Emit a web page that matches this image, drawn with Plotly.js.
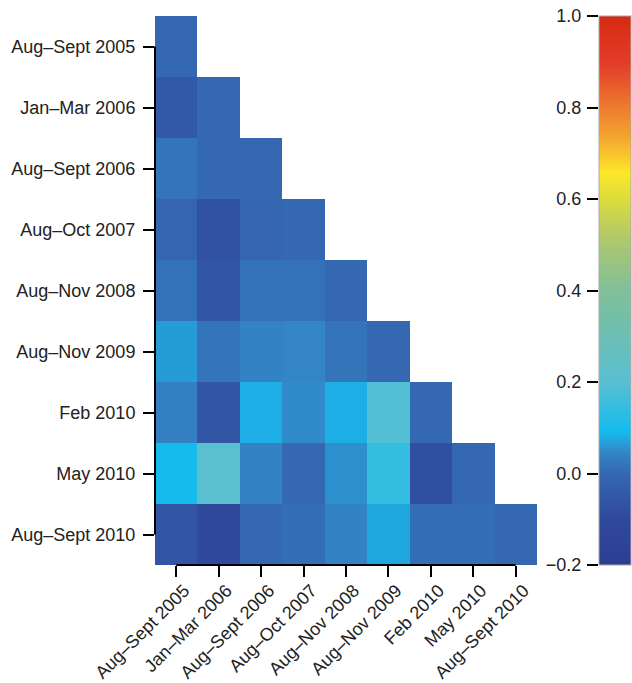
<!DOCTYPE html>
<html>
<head>
<meta charset="utf-8">
<script src="https://cdn.plot.ly/plotly-3.0.1.min.js"></script>
<style>html,body{margin:0;padding:0;background:#fff;}#chart{width:632px;height:683px;}</style>
</head>
<body>
<div id="chart"></div>
<script>
// Survey periods (row and column categories)
const periods = [
  "Aug–Sept 2005", "Jan–Mar 2006", "Aug–Sept 2006", "Aug–Oct 2007",
  "Aug–Nov 2008", "Aug–Nov 2009", "Feb 2010", "May 2010", "Aug–Sept 2010"
];

// Lower-triangular correlation values, one array per row (null = empty cell)
const rowAugSept2005 = [0.00, null, null, null, null, null, null, null, null];
const rowJanMar2006  = [-0.05, 0.00, null, null, null, null, null, null, null];
const rowAugSept2006 = [0.02, 0.00, 0.00, null, null, null, null, null, null];
const rowAugOct2007  = [-0.01, -0.07, -0.01, 0.00, null, null, null, null, null];
const rowAugNov2008  = [0.015, -0.06, 0.015, 0.015, 0.00, null, null, null, null];
const rowAugNov2009  = [0.065, 0.02, 0.04, 0.045, 0.02, 0.00, null, null, null];
const rowFeb2010     = [0.035, -0.06, 0.08, 0.05, 0.08, 0.19, 0.00, null, null];
const rowMay2010     = [0.095, 0.21, 0.04, 0.00, 0.055, 0.14, -0.08, 0.00, null];
const rowAugSept2010 = [-0.06, -0.10, 0.00, 0.01, 0.04, 0.075, 0.01, 0.01, 0.00];

// Colour scale range and colour-bar ticks
const zMin = -0.2;
const zMax = 1.0;
const colorTicks = [-0.2, 0.0, 0.2, 0.4, 0.6, 0.8, 1.0];

const zRows = [rowAugSept2005, rowJanMar2006, rowAugSept2006, rowAugOct2007,
  rowAugNov2008, rowAugNov2009, rowFeb2010, rowMay2010, rowAugSept2010];

const colorscale = [
  [0.000, '#2c3e92'],
  [0.083, '#30499c'],
  [0.167, '#3468b0'],
  [0.205, '#3386c6'],
  [0.243, '#14bbee'],
  [0.333, '#58bfd1'],
  [0.500, '#80bf98'],
  [0.600, '#b3c96a'],
  [0.667, '#dcdc3a'],
  [0.714, '#fde62a'],
  [0.780, '#f4a52f'],
  [0.833, '#ee7b2e'],
  [0.910, '#e33e2b'],
  [1.000, '#d62a10']
];

const FONT = '"Liberation Sans", Arial, Helvetica, sans-serif';
const plotLeft = 155, plotRight = 537, barLeft = 599, W = 632;
const paperW = W - plotLeft;
const barPos = (barLeft - plotLeft) / paperW;

const heat = {
  type: 'heatmap',
  x: periods,
  y: periods,
  z: zRows,
  zmin: zMin,
  zmax: zMax,
  colorscale: colorscale,
  hoverongaps: false,
  colorbar: {
    x: barPos,
    xanchor: 'left',
    xpad: 0,
    y: 0.5,
    yanchor: 'middle',
    len: 1,
    lenmode: 'fraction',
    ypad: 0,
    thickness: 32,
    outlinewidth: 1,
    outlinecolor: '#aaaaaa',
    ticks: '',
    showticklabels: false
  }
};

// empty trace so that the colour-bar scale axis (x2/y2) is drawn
const scaleAxisHolder = {
  type: 'scatter', x: [], y: [], xaxis: 'x2', yaxis: 'y2',
  mode: 'markers', showlegend: false, hoverinfo: 'skip'
};

const tickStyle = {
  ticks: 'outside', ticklen: 11, tickwidth: 2, tickcolor: '#000',
  showgrid: false, zeroline: false, showline: false,
  ticklabelstandoff: 4,
  tickfont: { family: FONT, size: 18, color: '#222' }
};

const layout = {
  width: 632, height: 683,
  margin: { l: plotLeft, r: 0, t: 16, b: 118, pad: 0 },
  paper_bgcolor: '#fff', plot_bgcolor: 'rgba(0,0,0,0)',
  font: { family: FONT, size: 18, color: '#222' },
  showlegend: false,
  xaxis: Object.assign({}, tickStyle, {
    type: 'category', domain: [0, (plotRight - plotLeft) / paperW],
    tickangle: -45, categoryorder: 'array', categoryarray: periods,
    ticklabelstandoff: -4, ticklabelshift: 8
  }),
  yaxis: Object.assign({
    type: 'category', autorange: 'reversed',
    categoryorder: 'array', categoryarray: periods
  }, tickStyle),
  xaxis2: {
    anchor: 'y2', domain: [barPos, 1], range: [0, 1], visible: false, fixedrange: true
  },
  yaxis2: Object.assign({
    anchor: 'x2', side: 'left', domain: [0, 1],
    range: [zMin, zMax], tickvals: colorTicks, tickformat: '.1f'
  }, tickStyle, { ticklabelstandoff: 2 }),
  shapes: [
    { type: 'line', xref: 'x', yref: 'y domain',
      x0: periods[0], x1: periods[periods.length - 1], y0: 0, y1: 0,
      line: { color: '#000', width: 2 } },
    { type: 'line', xref: 'x domain', yref: 'y',
      x0: 0, x1: 0, y0: periods[0], y1: periods[periods.length - 1],
      line: { color: '#000', width: 2 } }
  ]
};

Plotly.newPlot('chart', [heat, scaleAxisHolder], layout, { displayModeBar: false, staticPlot: true });
</script>
</body>
</html>
